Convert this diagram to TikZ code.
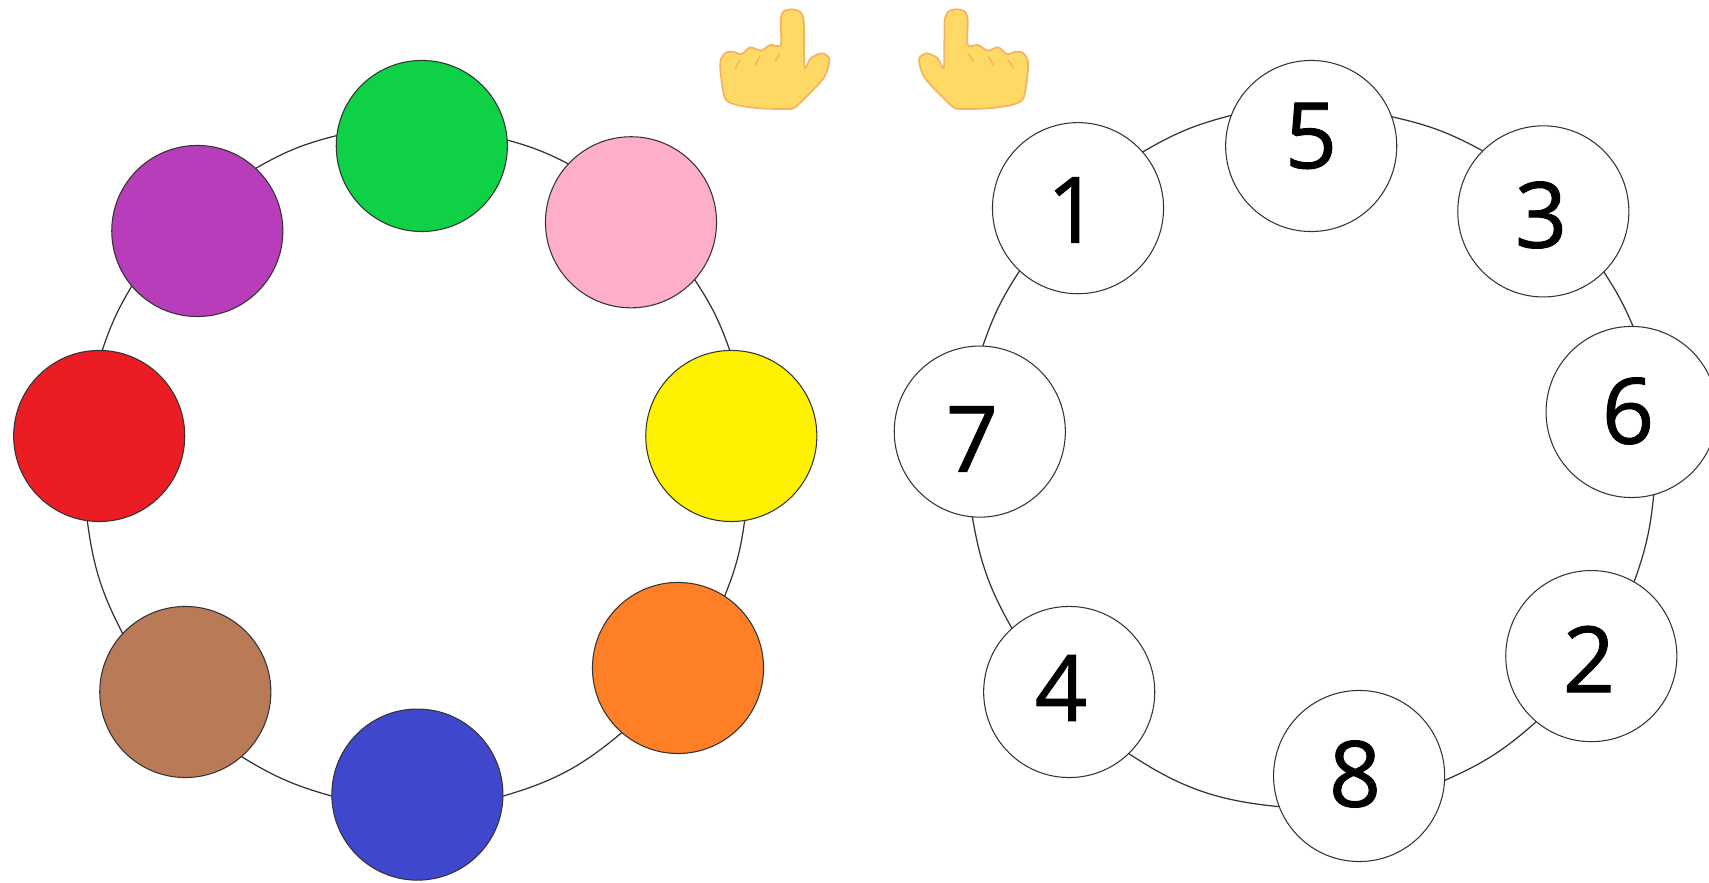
\documentclass[tikz,border=0pt]{standalone}
\usepackage{fontspec}
\setmainfont{Open Sans}
\newfontfamily\digitfont[FakeBold=1]{Open Sans}
\tikzset{
  ball/.style={circle, minimum size=1.71cm, inner sep=0pt, outer sep=0pt, draw=black!80, line width=0.3pt},
  numball/.style={ball, fill=white},
  digit/.style={font=\digitfont\fontsize{26}{26}\selectfont, inner sep=0pt},
  ringedge/.style={draw=black!80, line width=0.35pt},
  hand/.pic={
    \path[fill=handfill, draw=handedge, line width=0.5pt, scale=1/3]
      plot[smooth cycle, tension=0.45] coordinates {
      (-280.5,60) (-272.5,35) (-247.5,28) (-222.5,35) (-211.5,60) (-210.5,120) (-208.5,205)
      (-190.5,175) (-157.5,160) (-134.5,178) (-152.5,235) (-232.5,318) (-262.5,327)
      (-342.5,325) (-412.5,315) (-447.5,295) (-460.5,220) (-460.5,180) (-445,158)
      (-425,155) (-398,162) (-372,142) (-340,152) (-312,135) (-280.5,135)};
    \draw[handedge, line width=0.4pt, scale=1/3]
      (-417,205) -- (-403,180) (-357,195) -- (-343,170) (-297,185) -- (-283,160);
  }
}
\definecolor{handfill}{HTML}{FFD966}
\definecolor{handedge}{HTML}{F5B45F}
\definecolor{cgreen}{HTML}{0ED145}
\definecolor{cpink}{HTML}{FFAEC9}
\definecolor{cpurple}{HTML}{B83DBA}
\definecolor{cred}{HTML}{EC1C24}
\definecolor{cyellow}{HTML}{FFF200}
\definecolor{corange}{HTML}{FF7F27}
\definecolor{cbrown}{HTML}{B97A57}
\definecolor{cblue}{HTML}{3F48CC}
\begin{document}
\begin{tikzpicture}[x=0.01cm,y=-0.01cm]
	\clip (0,0) rectangle (1709,883);
	\fill[white] (0,0) rectangle (1709,883);
	% colour ring
	\node[ball, fill=cgreen] (green) at (421.8,146) {};
	\node[ball, fill=cpink] (pink) at (631,222.3) {};
	\node[ball, fill=cyellow] (yellow) at (731.3,436) {};
	\node[ball, fill=corange] (orange) at (678,668) {};
	\node[ball, fill=cblue] (blue) at (417.4,794.6) {};
	\node[ball, fill=cbrown] (brown) at (185.3,692) {};
	\node[ball, fill=cred] (red) at (99.2,436) {};
	\node[ball, fill=cpurple] (purple) at (197.3,231) {};
	\draw[ringedge] (green.4) to[bend left=6] (pink.137);
	\draw[ringedge] (pink.-42) to[bend left=7] (yellow.91);
	\draw[ringedge] (yellow.-81) to[bend left=7] (orange.57);
	\draw[ringedge] (orange.-131) to[bend left=12] (blue.-1);
	\draw[ringedge] (blue.181) to[bend left=8] (brown.-49);
	\draw[ringedge] (brown.137) to[bend left=10] (red.-98);
	\draw[ringedge] (red.88) to[bend left=6] (purple.-140);
	\draw[ringedge] (purple.47) to[bend left=8] (green.173);
	% number ring
	\node[numball] (n1) at (1078,208.2) {};
	\node[numball] (n5) at (1311.2,146) {};
	\node[numball] (n3) at (1543.3,211.4) {};
	\node[numball] (n6) at (1631.6,412) {};
	\node[numball] (n2) at (1591.3,656.1) {};
	\node[numball] (n8) at (1359.1,776) {};
	\node[numball] (n4) at (1069.2,692) {};
	\node[numball] (n7) at (979.8,431.6) {};
	\draw[ringedge] (n1.41) to[bend left=8] (n5.159);
	\draw[ringedge] (n5.20) to[bend left=8] (n3.135);
	\draw[ringedge] (n3.-45) to[bend left=5] (n6.89);
	\draw[ringedge] (n6.-75) to[bend left=7] (n2.60);
	\draw[ringedge] (n2.-130) to[bend left=9] (n8.-3);
	\draw[ringedge] (n8.-159) to[bend left=14] (n4.-46);
	\draw[ringedge] (n4.132) to[bend left=10] (n7.-95);
	\draw[ringedge] (n7.88) to[bend left=7] (n1.-133);
	%
	\node[digit] (t1) at (1073,210) {1};
	\node[digit] (t5) at (1311,136) {5};
	\node[digit] (t3) at (1541,215) {3};
	\node[digit] (t6) at (1628,411) {6};
	\node[digit] (t2) at (1589,659) {2};
	\node[digit] (t8) at (1355,774) {8};
	\node[digit] (t4) at (1061,688) {4};
	\node[digit] (t7) at (972,439) {7};
	% hands
	\pic at (874.2,0) {hand};
	\pic[xscale=-1] at (874.2,0) {hand};
\end{tikzpicture}
\end{document}
